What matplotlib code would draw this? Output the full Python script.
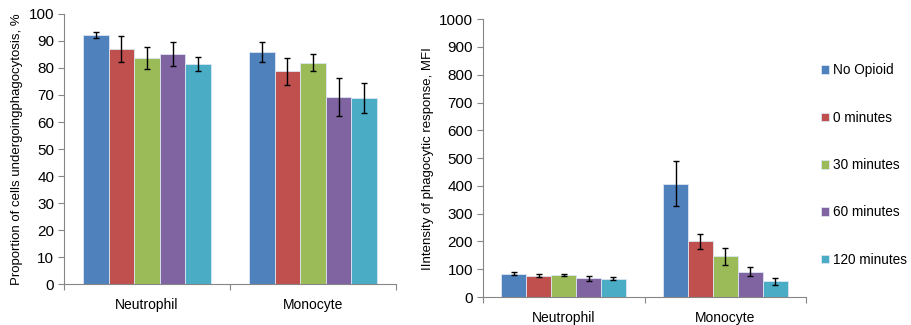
import matplotlib
matplotlib.use("Agg")
import matplotlib.pyplot as plt
import numpy as np

plt.rcParams['font.family'] = ['Liberation Sans', 'DejaVu Sans']

categories = ["Neutrophil", "Monocyte"]
series = ["No Opioid", "0 minutes", "30 minutes", "60 minutes", "120 minutes"]
colors = ["#4F81BD", "#C0504D", "#9BBB59", "#8064A2", "#4BACC6"]

# Left: proportion (%) [Neutrophil, Monocyte] per series
prop_vals = [[92.3, 86.0], [87.2, 78.8], [83.6, 82.0], [85.3, 69.3], [81.5, 69.0]]
prop_err = [[1.2, 3.8], [4.8, 5.0], [4.0, 3.0], [4.5, 6.9], [2.5, 5.5]]

# Right: MFI
mfi_vals = [[84, 408], [77, 201], [80, 146], [67, 91], [66, 56]]
mfi_err = [[5, 81], [6, 27], [3, 30], [8, 17], [6, 11]]

fig = plt.figure(figsize=(9.11, 3.25), dpi=100)
ax1 = fig.add_axes([0.0703, 0.126, 0.3644, 0.831])
ax2 = fig.add_axes([0.530, 0.086, 0.355, 0.855])

bw = 0.154
x = np.arange(len(categories))

def draw(ax, vals, errs, ymax, step, ylabel):
    n = len(vals)
    for i in range(n):
        offs = (i - (n - 1) / 2) * bw
        ax.bar(x + offs, vals[i], bw, color=colors[i], edgecolor="#dce6f2",
               linewidth=0.6, label=series[i], zorder=2)
        ax.errorbar(x + offs, vals[i], yerr=errs[i], fmt="none", ecolor="black",
                    elinewidth=1.0, capsize=2.5, capthick=1.0, zorder=3)
    ax.set_xlim(-0.5, len(categories) - 0.5)
    ax.set_ylim(0, ymax)
    ax.set_yticks(np.arange(0, ymax + step / 2, step))
    ax.set_xticks(np.arange(-0.5, len(categories), 1.0))
    ax.set_xticklabels([])
    ax.set_xticks(x, minor=True)
    ax.set_xticklabels(categories, minor=True)
    ax.tick_params(axis="x", which="minor", length=0, pad=10, labelsize=10)
    ax.tick_params(axis="x", which="major", length=4, color="#868686", width=0.8)
    ax.tick_params(axis="y", length=4, color="#868686", width=0.8, labelsize=11, pad=3)
    for s in ["top", "right"]:
        ax.spines[s].set_visible(False)
    for s in ["left", "bottom"]:
        ax.spines[s].set_color("#868686")
        ax.spines[s].set_linewidth(0.8)
    ax.set_ylabel(ylabel, fontsize=9.5, labelpad=4)

draw(ax1, prop_vals, prop_err, 100, 10, "Proportion of cells undergoingphagocytosis, %")
draw(ax2, mfi_vals, mfi_err, 1000, 100, "IIntensity of phagocytic response, MFI")

ax2.legend(loc="center left", bbox_to_anchor=(1.016, 0.475), frameon=False,
           fontsize=9.8, handlelength=0.6, handleheight=0.6, handletextpad=0.25,
           labelspacing=2.45, borderaxespad=0.3)

fig.savefig("out.png", dpi=100)
